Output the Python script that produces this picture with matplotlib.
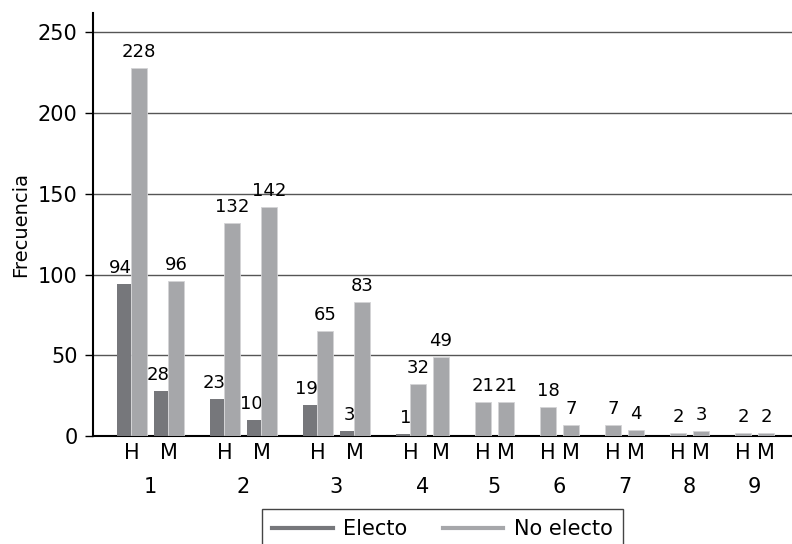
import numpy as np
import matplotlib.pyplot as plt
from matplotlib.lines import Line2D
from matplotlib.transforms import blended_transform_factory

# datos: frecuencia por posicion (1-9), sexo (H/M) y resultado
grupos = ['1', '2', '3', '4', '5', '6', '7', '8', '9']
sexos = ['H', 'M']
# None = sin barra de electo
electo_h = [94, 23, 19, 1, None, None, None, None, None]
electo_m = [28, 10, 3, None, None, None, None, None, None]
no_electo_h = [228, 132, 65, 32, 21, 18, 7, 2, 2]
no_electo_m = [96, 142, 83, 49, 21, 7, 4, 3, 2]

c_electo = '#76777b'
c_no = '#a6a7aa'

w_no = 1.0        # ancho barra no electo
w_el = 0.875      # ancho barra electo
gap_in = 0.44     # hueco entre H y M
gap_out = 1.63    # hueco entre grupos

plt.rcParams['font.family'] = ['DejaVu Sans']

fig = plt.figure(figsize=(7.92, 5.44), dpi=100)
ax = fig.add_axes([93 / 792, 1 - 436 / 544, 1 - 93 / 792, (436 - 13) / 544])

x = 0.0
slot_centers, slot_labels, group_centers = [], [], []
for i in range(len(grupos)):
    g_start = x
    for j, (el, no) in enumerate([(electo_h[i], no_electo_h[i]), (electo_m[i], no_electo_m[i])]):
        s_start = x
        if el is not None:
            ax.bar(x, el, width=w_el, align='edge', color=c_electo, zorder=3)
            ax.annotate(str(el), (x + w_el, el), xytext=(1, 5), textcoords='offset points',
                        ha='right', va='bottom', fontsize=13)
            x += w_el
        ax.bar(x, no, width=w_no, align='edge', color=c_no, edgecolor='#d4d4d6',
               linewidth=0.6, zorder=3)
        ax.annotate(str(no), (x + w_no / 2, no), xytext=(0, 5), textcoords='offset points',
                    ha='center', va='bottom', fontsize=13)
        x += w_no
        slot_centers.append((s_start + x) / 2)
        slot_labels.append(sexos[j])
        if j == 0:
            x += gap_in
    group_centers.append((g_start + x) / 2)
    x += gap_out
x_end = x - gap_out

ax.set_xlim(-1.5, x_end + 1.125)
ax.set_ylim(0, 262)
ax.set_yticks(np.arange(0, 251, 50))
ax.yaxis.grid(True, color='#555555', linewidth=1, zorder=0)
ax.set_axisbelow(True)

ax.set_xticks(slot_centers, slot_labels, fontsize=15)
ax.tick_params(axis='x', length=0, pad=5)
ax.tick_params(axis='y', length=6, width=1, pad=5, labelsize=15)

trans = blended_transform_factory(ax.transData, ax.transAxes)
for gc, g in zip(group_centers, grupos):
    ax.annotate(g, (gc, 0), xycoords=trans, xytext=(0, -37), textcoords='offset points',
                ha='center', va='center', fontsize=15)

for s in ['top', 'right']:
    ax.spines[s].set_visible(False)
for s in ['left', 'bottom']:
    ax.spines[s].set_linewidth(1.5)
ax.set_ylabel('Frecuencia', fontsize=14, labelpad=6)

handles = [Line2D([], [], color=c_electo, lw=3), Line2D([], [], color=c_no, lw=3)]
leg = fig.legend(handles, ['Electo', 'No electo'], loc='upper left',
                 bbox_to_anchor=(262 / 792, 1 - 509 / 544), ncol=2, fontsize=15,
                 frameon=True, fancybox=False, edgecolor='#444444', framealpha=1,
                 handlelength=2.9, handletextpad=0.5, columnspacing=1.7, borderpad=0.5,
                 borderaxespad=0)
leg.get_frame().set_linewidth(1)

fig.savefig('out.png', dpi=100)
